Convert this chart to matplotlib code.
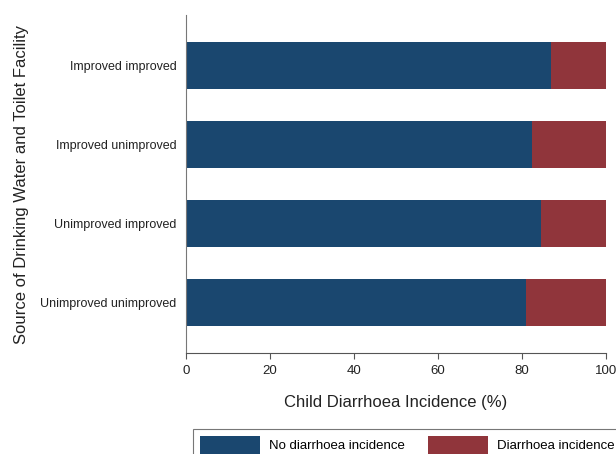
import matplotlib.pyplot as plt
from matplotlib.patches import Patch

CATEGORIES = [
    "Improved improved",
    "Improved unimproved",
    "Unimproved improved",
    "Unimproved unimproved",
]
NO_DIARRHOEA = [86.8, 82.3, 84.5, 81.0]
DIARRHOEA = [13.2, 17.7, 15.5, 19.0]
SERIES_LABELS = ["No diarrhoea incidence", "Diarrhoea incidence"]
X_TICKS = [0, 20, 40, 60, 80, 100]

BLUE = "#1a476f"
RED = "#90353b"


def main():
    plt.rcParams["font.family"] = ["Liberation Sans", "DejaVu Sans"]
    fig = plt.figure(figsize=(6.16, 4.54), dpi=100)
    ax = fig.add_axes([186 / 616, 1 - 353 / 454, 420 / 616, 338 / 454])

    pos = list(range(len(CATEGORIES)))
    ax.barh(pos, NO_DIARRHOEA, height=0.6, color=BLUE, edgecolor="none")
    ax.barh(pos, DIARRHOEA, left=NO_DIARRHOEA, height=0.6, color=RED, edgecolor="none")

    ax.set_ylim(3.64, -0.64)
    ax.set_xlim(0, 100)
    ax.set_yticks(pos)
    ax.set_yticklabels(CATEGORIES, fontsize=9, color="#222222")
    ax.tick_params(axis="y", length=0, pad=7)
    ax.set_xticks(X_TICKS)
    ax.set_xticklabels([str(t) for t in X_TICKS], fontsize=9.5, color="#222222")
    ax.tick_params(axis="x", length=4, color="#555555", pad=5)

    for side in ("top", "right"):
        ax.spines[side].set_visible(False)
    ax.spines["left"].set_color("#777777")
    ax.spines["bottom"].set_color("#555555")

    ax.set_xlabel("Child Diarrhoea Incidence (%)", fontsize=12, color="#222222")
    ax.xaxis.set_label_coords(0.5, -(395 - 353) / 338)
    ax.set_ylabel("Source of Drinking Water and Toilet Facility", fontsize=12,
                  color="#222222")
    ax.yaxis.set_label_coords(-(186 - 29) / 420, 0.5)

    handles = [Patch(facecolor=BLUE), Patch(facecolor=RED)]
    leg = fig.legend(
        handles, SERIES_LABELS,
        loc="upper left",
        bbox_to_anchor=(193 / 616, 1 - 429 / 454),
        borderaxespad=0,
        ncol=2,
        fontsize=9.5,
        frameon=True,
        fancybox=False,
        handlelength=4.55,
        handleheight=1.85,
        handletextpad=0.68,
        columnspacing=1.75,
        borderpad=0.5,
    )
    leg.get_frame().set_edgecolor("#555555")
    leg.get_frame().set_linewidth(0.8)

    fig.savefig("out.png", dpi=100)


if __name__ == "__main__":
    main()
